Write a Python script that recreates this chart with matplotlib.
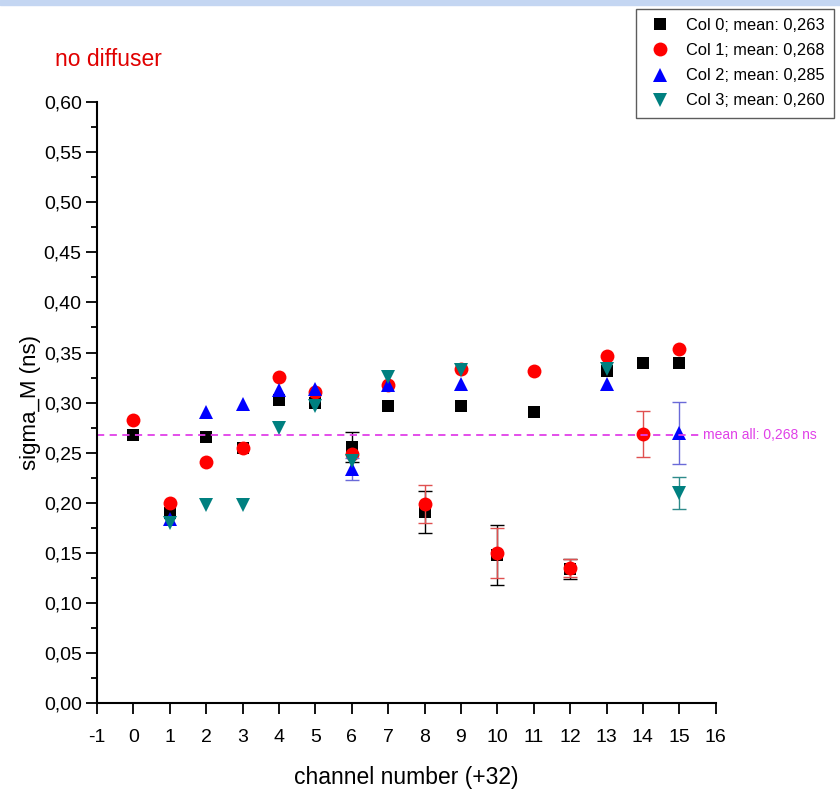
import numpy as np
import matplotlib
matplotlib.use("Agg")
import matplotlib.pyplot as plt
from matplotlib.ticker import FuncFormatter, MultipleLocator
from matplotlib.patches import Rectangle
from matplotlib.lines import Line2D

plt.rcParams["font.family"] = ["Liberation Sans", "DejaVu Sans"]
plt.rcParams["axes.unicode_minus"] = False

nan = np.nan
channels = list(range(16))

col0 = [0.268, 0.190, 0.266, 0.255, 0.303, 0.300, 0.256, 0.297,
        0.191, 0.297, 0.148, 0.291, 0.134, 0.332, 0.340, 0.340]
col1 = [0.283, 0.200, 0.241, 0.255, 0.326, 0.311, 0.249, 0.318,
        0.199, 0.334, 0.150, 0.332, 0.135, 0.347, 0.269, 0.354]
col2 = [nan, 0.184, 0.291, 0.299, 0.313, 0.314, 0.234, 0.318,
        nan, 0.319, nan, nan, nan, 0.319, nan, 0.270]
col3 = [nan, 0.180, 0.198, 0.198, 0.275, 0.297, 0.242, 0.326,
        nan, 0.333, nan, nan, nan, 0.334, nan, 0.210]

err0 = [0, 0, 0, 0, 0, 0, 0.015, 0, 0.021, 0, 0.030, 0, 0.010, 0, 0, 0]
err1 = [0, 0, 0, 0, 0, 0, 0, 0, 0.019, 0, 0.025, 0, 0.009, 0, 0.023, 0]
err2 = [0, 0, 0, 0, 0, 0, 0.011, 0, 0, 0, 0, 0, 0, 0, 0, 0.031]
err3 = [0, 0, 0, 0, 0, 0, 0, 0, 0, 0, 0, 0, 0, 0, 0, 0.016]

labels = ["Col 0; mean: 0,263", "Col 1; mean: 0,268",
          "Col 2; mean: 0,285", "Col 3; mean: 0,260"]
mean_all = 0.268

series = [
    (col0, err0, "s", "black", "black", 9),
    (col1, err1, "o", "#ff0000", "#e05050", 10),
    (col2, err2, "^", "#0000ff", "#6a6ad8", 10),
    (col3, err3, "v", "#008080", "#2e8b8b", 10),
]

fig = plt.figure(figsize=(8.4, 7.98), dpi=100)
ax = fig.add_axes([0.1155, 0.119, 0.7365, 0.753])

# blue strip from the screenshot top
fig.patches.append(Rectangle((0, 0.994), 1, 0.006, transform=fig.transFigure,
                             color="#c4d6f2", zorder=0))

handles = []
for (vals, errs, mk, col, ecol, ms), lab in zip(series, labels):
    errs = np.array(errs, dtype=float)
    vals = np.array(vals, dtype=float)
    has = errs > 0
    x = np.array(channels)
    ax.errorbar(x[has], vals[has], yerr=errs[has], fmt="none", ecolor=ecol,
                elinewidth=1, capsize=5, capthick=1)
    ax.plot(x, vals, mk, color=col, markersize=ms, markeredgewidth=0)
    handles.append(Line2D([], [], ls="none", marker=mk, color=col,
                          markersize=ms, markeredgewidth=0))

ax.plot([-1, 15.6], [mean_all, mean_all], ls=(0, (4, 3)), color="#e040e8", lw=1.3)
ax.text(15.65, mean_all, "mean all: 0,268 ns", color="#e040e8", fontsize=10,
        va="center", ha="left", clip_on=False)

ax.set_xlim(-1, 16)
ax.set_ylim(0, 0.6)
ax.xaxis.set_major_locator(MultipleLocator(1))
ax.yaxis.set_major_locator(MultipleLocator(0.05))
ax.yaxis.set_minor_locator(MultipleLocator(0.025))
ax.yaxis.set_major_formatter(FuncFormatter(lambda v, p: f"{v:.2f}".replace(".", ",")))
ax.tick_params(axis="both", which="major", direction="out", length=8, width=1.3,
               labelsize=14)
ax.tick_params(axis="y", which="major", pad=3)
ax.tick_params(axis="x", which="major", pad=11)
ax.tick_params(axis="y", which="minor", direction="out", length=4, width=1.3)

for s in ["top", "right"]:
    ax.spines[s].set_visible(False)
for s in ["left", "bottom"]:
    ax.spines[s].set_linewidth(1.5)

ax.set_xlabel("channel number (+32)", fontsize=16.5, labelpad=14)
ax.set_ylabel("sigma_M (ns)", fontsize=16, labelpad=2)

fig.text(0.065, 0.925, "no diffuser", color="#e00000", fontsize=16.5,
         ha="left", va="center")

fig.legend(handles=handles, labels=labels, loc="upper right",
           bbox_to_anchor=(834 / 840, 1 - 9 / 798), fontsize=11.8,
           frameon=True, fancybox=False, edgecolor="#333333",
           handletextpad=0.7, borderpad=0.55, labelspacing=0.62,
           handlelength=1.8, borderaxespad=0)

fig.savefig("out.png", dpi=100)
